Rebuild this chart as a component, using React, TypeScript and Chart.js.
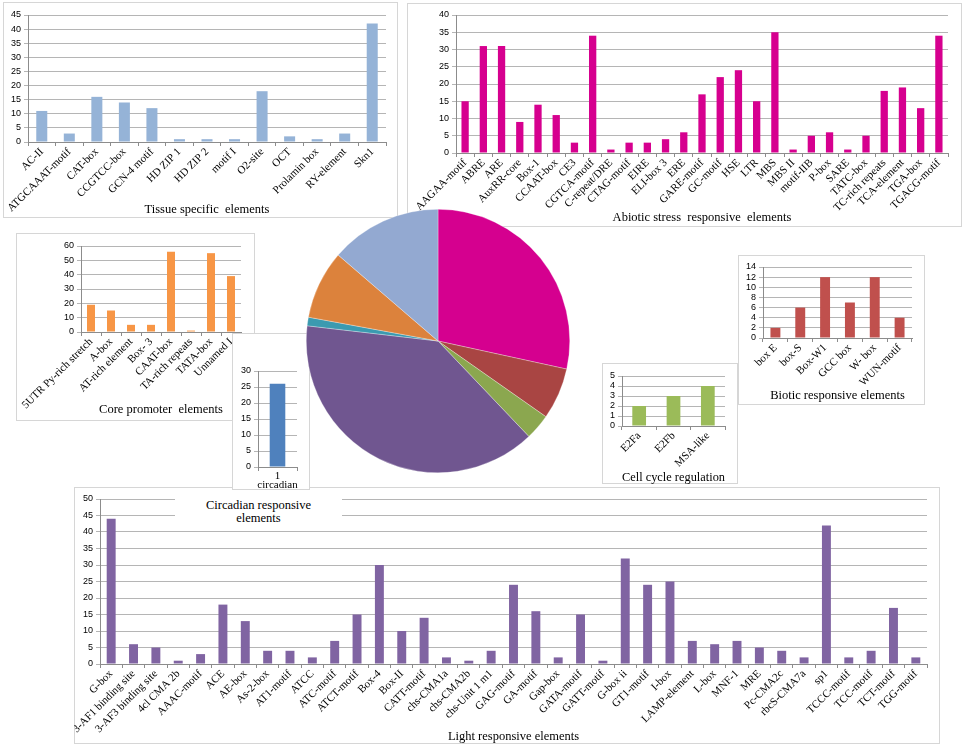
import React, { useEffect, useRef } from 'react';
import { Chart, registerables } from 'chart.js';

Chart.register(...registerables);

// Tissue specific elements
const tissueLabels = ['AC-II', 'ATGCAAAT-motif', 'CAT-box', 'CCGTCC-box', 'GCN-4 motif', 'HD ZIP 1', 'HD ZIP 2', 'motif I', 'O2-site', 'OCT', 'Prolamin box', 'RY-element', 'Skn1'];
const tissueValues = [11, 3, 16, 14, 12, 1, 1, 1, 18, 2, 1, 3, 42];

// Abiotic stress responsive elements
const abioticLabels = ['AAGAA-motif', 'ABRE', 'ARE', 'AuxRR-core', 'Box-1', 'CCAAT-box', 'CE3', 'CGTCA-motif', 'C-repeat/DRE', 'CTAG-motif', 'EIRE', 'ELI-box 3', 'ERE', 'GARE-motif', 'GC-motif', 'HSE', 'LTR', 'MBS', 'MBS II', 'motif-IIB', 'P-box', 'SARE', 'TATC-box', 'TC-rich repeats', 'TCA-element', 'TGA-box', 'TGACG-motif'];
const abioticValues = [15, 31, 31, 9, 14, 11, 3, 34, 1, 3, 3, 4, 6, 17, 22, 24, 15, 35, 1, 5, 6, 1, 5, 18, 19, 13, 34];

// Core promoter elements
const coreLabels = ['5UTR Py-rich stretch', 'A-box', 'AT-rich element', 'Box- 3', 'CAAT-box', 'TA-rich repeats', 'TATA-box', 'Unnamed I'];
const coreValues = [19, 15, 5, 5, 56, 1, 55, 39];

// Circadian responsive elements
const circadianLabels = [['1', 'circadian']];
const circadianValues = [26];

// Biotic responsive elements
const bioticLabels = ['box E', 'box-S', 'Box-W1', 'GCC box', 'W- box', 'WUN-motif'];
const bioticValues = [2, 6, 12, 7, 12, 4];

// Cell cycle regulation
const cellLabels = ['E2Fa', 'E2Fb', 'MSA-like'];
const cellValues = [2, 3, 4];

// Light responsive elements
const lightLabels = ['G-box', '3-AF1 binding site', '3-AF3 binding site', '4cl CMA 2b', 'AAAC-motif', 'ACE', 'AE-box', 'As-2-box', 'AT1-motif', 'ATCC', 'ATC-motif', 'ATCT-motif', 'Box-4', 'Box-II', 'CATT-motif', 'chs-CMA1a', 'chs-CMA2b', 'chs-Unit 1 m1', 'GAG-motif', 'GA-motif', 'Gap-box', 'GATA-motif', 'GATT-motif', 'G-box ii', 'GT1-motif', 'I-box', 'LAMP-element', 'L-box', 'MNF-1', 'MRE', 'Pc-CMA2c', 'rbcS-CMA7a', 'sp1', 'TCCC-motif', 'TCC-motif', 'TCT-motif', 'TGG-motif'];
const lightValues = [44, 6, 5, 1, 3, 18, 13, 4, 4, 2, 7, 15, 30, 10, 14, 2, 1, 4, 24, 16, 2, 15, 1, 32, 24, 25, 7, 6, 7, 5, 4, 2, 42, 2, 4, 17, 2];

// pie: number of element types in each group
const pieGroups = ['Abiotic stress responsive elements', 'Biotic responsive elements', 'Cell cycle regulation', 'Light responsive elements', 'Circadian responsive elements', 'Core promoter elements', 'Tissue specific elements'];
const pieCounts = [abioticLabels.length, bioticLabels.length, cellLabels.length, lightLabels.length, circadianLabels.length, coreLabels.length, tissueLabels.length];
const pieColors = ['#D5008F', '#A94543', '#8BA74F', '#705690', '#3B9AB0', '#DC823C', '#93A9D1'];

const SERIF = '"Liberation Serif", "Times New Roman", serif';
const SANS = '"Liberation Sans", Arial, sans-serif';

type Box = { l: number; t: number; r: number; b: number };
type BarSpec = {
    labels: any[];
    values: number[];
    color: string;
    title?: string;
    yMax: number;
    yStep: number;
    panel: Box;
    plot: Box;
    canvasBottom: number;
    rotation: number;
};

const panelStyle = (p: Box): React.CSSProperties => ({
    position: 'absolute',
    left: p.l,
    top: p.t,
    width: p.r - p.l,
    height: p.b - p.t,
    boxSizing: 'border-box',
    border: '1px solid #d6d6d6',
    background: '#fff',
});

const BarPanel = ({ spec }: { spec: BarSpec }) => {
    const canvasRef = useRef<HTMLCanvasElement>(null);
    const { panel, plot } = spec;
    const w = panel.r - panel.l;
    const h = spec.canvasBottom - panel.t;

    useEffect(() => {
        if (!canvasRef.current) return;
        const chart = new Chart(canvasRef.current, {
            type: 'bar',
            data: {
                labels: spec.labels,
                datasets: [{
                    data: spec.values,
                    backgroundColor: spec.color,
                    barPercentage: 0.4,
                    categoryPercentage: 1,
                }],
            },
            options: {
                animation: false,
                responsive: false,
                maintainAspectRatio: false,
                layout: { padding: { left: 0, top: plot.t - panel.t, right: panel.r - plot.r, bottom: 0 } },
                plugins: { legend: { display: false }, tooltip: { enabled: false } },
                scales: {
                    x: {
                        grid: { offset: true, drawOnChartArea: false, drawTicks: true, tickLength: 4, color: '#8c8c8c' },
                        border: { color: '#8c8c8c' },
                        ticks: {
                            autoSkip: false,
                            minRotation: spec.rotation,
                            maxRotation: spec.rotation,
                            padding: 1,
                            color: '#000',
                            font: { family: SERIF, size: 11, lineHeight: 0.8 },
                        },
                        title: {
                            display: !!spec.title,
                            text: spec.title || '',
                            color: '#000',
                            padding: 0,
                            font: { family: SERIF, size: 12.5, lineHeight: 1.2 },
                        },
                        afterFit: (s: any) => {
                            s.height = spec.canvasBottom - plot.b;
                            s.paddingLeft = 0;
                            s.paddingRight = 0;
                        },
                    },
                    y: {
                        min: 0,
                        max: spec.yMax,
                        ticks: { stepSize: spec.yStep, autoSkip: false, padding: 3, color: '#000', font: { family: SANS, size: 9 } },
                        grid: { color: '#b5b5b5', tickLength: 4 },
                        border: { color: '#8c8c8c' },
                        afterFit: (s: any) => {
                            s.width = plot.l - panel.l;
                            s.paddingTop = 0;
                            s.paddingBottom = 0;
                        },
                    },
                },
            } as any,
        });
        return () => chart.destroy();
    }, []);

    return (
        <>
            <div style={panelStyle(panel)} />
            <canvas
                ref={canvasRef}
                width={w}
                height={h}
                style={{ position: 'absolute', left: panel.l, top: panel.t, width: w, height: h }}
            />
        </>
    );
};

const PieChart = () => {
    const canvasRef = useRef<HTMLCanvasElement>(null);

    useEffect(() => {
        if (!canvasRef.current) return;
        const chart = new Chart(canvasRef.current, {
            type: 'pie',
            data: {
                labels: pieGroups,
                datasets: [{
                    data: pieCounts,
                    backgroundColor: pieColors,
                    borderColor: 'rgba(255,255,255,0.6)',
                    borderWidth: 0.5,
                }],
            },
            options: {
                animation: false,
                responsive: false,
                maintainAspectRatio: false,
                layout: { padding: 0 },
                plugins: { legend: { display: false }, tooltip: { enabled: false } },
            },
        });
        return () => chart.destroy();
    }, []);

    return (
        <canvas
            ref={canvasRef}
            width={264}
            height={264}
            style={{ position: 'absolute', left: 306, top: 209, width: 264, height: 264 }}
        />
    );
};

const tissueSpec: BarSpec = {
    labels: tissueLabels, values: tissueValues, color: '#95B3D7', title: 'Tissue specific  elements',
    yMax: 45, yStep: 5, rotation: 45,
    panel: { l: 3, t: 2, r: 398, b: 218 }, plot: { l: 28, t: 15, r: 386, b: 142 }, canvasBottom: 217,
};
const abioticSpec: BarSpec = {
    labels: abioticLabels, values: abioticValues, color: '#D6008F', title: 'Abiotic stress  responsive  elements',
    yMax: 40, yStep: 5, rotation: 45,
    panel: { l: 407, t: 3, r: 962, b: 227 }, plot: { l: 456, t: 15, r: 948, b: 153 }, canvasBottom: 225,
};
const coreSpec: BarSpec = {
    labels: coreLabels, values: coreValues, color: '#F79646', title: 'Core promoter  elements',
    yMax: 60, yStep: 10, rotation: 45,
    panel: { l: 16, t: 233, r: 255, b: 421 }, plot: { l: 81, t: 246, r: 241, b: 332 }, canvasBottom: 417,
};
const lightSpec: BarSpec = {
    labels: lightLabels, values: lightValues, color: '#8064A2', title: 'Light responsive elements',
    yMax: 50, yStep: 5, rotation: 45,
    panel: { l: 74, t: 487, r: 940, b: 744 }, plot: { l: 100, t: 499, r: 927, b: 664 }, canvasBottom: 744,
};
const circadianSpec: BarSpec = {
    labels: circadianLabels, values: circadianValues, color: '#4F81BD',
    yMax: 30, yStep: 5, rotation: 0,
    panel: { l: 232, t: 333, r: 310, b: 490 }, plot: { l: 258, t: 371, r: 297, b: 467 }, canvasBottom: 490,
};
const bioticSpec: BarSpec = {
    labels: bioticLabels, values: bioticValues, color: '#C0504D', title: 'Biotic responsive elements',
    yMax: 14, yStep: 2, rotation: 45,
    panel: { l: 738, t: 255, r: 925, b: 405 }, plot: { l: 763, t: 267, r: 912, b: 338 }, canvasBottom: 403,
};
const cellSpec: BarSpec = {
    labels: cellLabels, values: cellValues, color: '#9BBB59', title: 'Cell cycle regulation',
    yMax: 5, yStep: 1, rotation: 45,
    panel: { l: 602, t: 363, r: 738, b: 484 }, plot: { l: 622, t: 376, r: 725, b: 426 }, canvasBottom: 485,
};

const App = () => {
    return (
        <div style={{ position: 'absolute', left: 0, top: 0, width: 964, height: 749, background: '#fff', overflow: 'hidden' }}>
            <BarPanel spec={tissueSpec} />
            <BarPanel spec={abioticSpec} />
            <BarPanel spec={coreSpec} />
            <BarPanel spec={lightSpec} />
            <BarPanel spec={circadianSpec} />
            <div style={{
                position: 'absolute', left: 175, top: 492, width: 167, height: 35, paddingTop: 7, boxSizing: 'border-box',
                background: '#fff', textAlign: 'center', fontFamily: SERIF, fontSize: 12.5, lineHeight: '13px', color: '#000',
            }}>
                Circadian  responsive<br />elements
            </div>
            <BarPanel spec={bioticSpec} />
            <BarPanel spec={cellSpec} />
            <PieChart />
        </div>
    );
};

export default App;
